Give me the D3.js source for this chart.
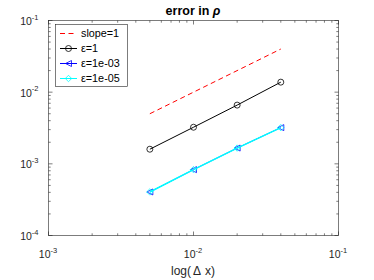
<!DOCTYPE html>
<html><head><meta charset="utf-8">
<script src="https://cdn.jsdelivr.net/npm/d3@7"></script>
<style>body{margin:0;background:#fff}svg{display:block;font-family:"Liberation Sans",Arial,sans-serif}</style>
</head><body><svg id="c" width="374" height="280"></svg>
<script>
const dx = [0.005, 0.01, 0.02, 0.04];
const slopeRef = [0.005, 0.04];
const slopeX = [0.005, 0.04];
const eps1 = [1.6e-3, 3.24e-3, 6.6e-3, 1.38e-2];
const eps1e3 = [4.05e-4, 8.3e-4, 1.66e-3, 3.2e-3];
const eps1e5 = [4.05e-4, 8.3e-4, 1.66e-3, 3.2e-3];
const xTicks = [1e-3, 1e-2, 1e-1];
const yTicks = [1e-4, 1e-3, 1e-2, 1e-1];
const legendLabels = ["slope=1", "\u03b5=1", "\u03b5=1e-03", "\u03b5=1e-05"];

const svg = d3.select("#c");
const L = 48.5, R = 338.5, T = 20.5, B = 235.5;
const x = d3.scaleLog().domain([1e-3, 1e-1]).range([L, R]);
const y = d3.scaleLog().domain([1e-4, 1e-1]).range([B, T]);

svg.append("rect").attr("x", L).attr("y", T).attr("width", R - L).attr("height", B - T)
  .attr("fill", "none").attr("stroke", "#262626").attr("stroke-width", 0.6);

function minors(dom) {
  const out = [];
  for (let e = Math.log10(dom[0]); e < Math.log10(dom[1]); e++)
    for (let m = 1; m < 10; m++) out.push(m * Math.pow(10, e));
  out.push(dom[1]);
  return out;
}
const g = svg.append("g").attr("stroke", "#262626").attr("stroke-width", 0.6);
minors([1e-3, 1e-1]).forEach(v => {
  const len = xTicks.includes(v) ? 4 : 2.2;
  const xp = x(v);
  g.append("line").attr("x1", xp).attr("x2", xp).attr("y1", B).attr("y2", B - len);
  g.append("line").attr("x1", xp).attr("x2", xp).attr("y1", T).attr("y2", T + len);
});
minors([1e-4, 1e-1]).forEach(v => {
  const len = yTicks.includes(v) ? 4 : 2.2;
  const yp = y(v);
  g.append("line").attr("y1", yp).attr("y2", yp).attr("x1", L).attr("x2", L + len);
  g.append("line").attr("y1", yp).attr("y2", yp).attr("x1", R).attr("x2", R - len);
});

xTicks.forEach(v => {
  const t = svg.append("text").attr("x", x(v) - 0.5).attr("y", 258).attr("text-anchor", "middle")
    .attr("font-size", 10.5).attr("fill", "#262626");
  t.append("tspan").text("10");
  t.append("tspan").attr("dy", -5.5).attr("font-size", 7.5).text(Math.round(Math.log10(v)));
});
yTicks.forEach(v => {
  const t = svg.append("text").attr("x", L - 10).attr("y", y(v) + 4.5).attr("text-anchor", "end")
    .attr("font-size", 10.5).attr("fill", "#262626");
  t.append("tspan").text("10");
  t.append("tspan").attr("dy", -5.5).attr("font-size", 7.5).text(Math.round(Math.log10(v)));
});

const tt = svg.append("text").attr("x", 193).attr("y", 15).attr("text-anchor", "middle")
  .attr("font-size", 12.5).attr("font-weight", "bold").attr("fill", "#000");
tt.append("tspan").text("error in ");
tt.append("tspan").attr("font-style", "italic").text("\u03c1");
const xl = svg.append("text").attr("x", 193).attr("y", 275).attr("text-anchor", "middle")
  .attr("font-size", 12).attr("fill", "#262626");
xl.append("tspan").text("log(");
xl.append("tspan").attr("dx", 2).text("\u0394");
xl.append("tspan").attr("dx", 4).text("x)");

const line = d3.line().x(d => x(d[0])).y(d => y(d[1]));
svg.append("path").datum(slopeX.map((v, i) => [v, slopeRef[i]])).attr("d", line)
  .attr("fill", "none").attr("stroke", "#ff0000").attr("stroke-width", 1).attr("stroke-dasharray", "5,3.5");

function triL(cx, cy, s) { return `M${cx - s},${cy}L${cx + s},${cy - s}L${cx + s},${cy + s}Z`; }
function diamond(cx, cy, s) { return `M${cx},${cy - s}L${cx + s},${cy}L${cx},${cy + s}L${cx - s},${cy}Z`; }

function series(vals, color, marker, w) {
  const pts = dx.map((v, i) => [v, vals[i]]);
  svg.append("path").datum(pts).attr("d", line).attr("fill", "none").attr("stroke", color).attr("stroke-width", w);
  pts.forEach(p => {
    const cx = x(p[0]), cy = y(p[1]);
    if (marker === "o") svg.append("circle").attr("cx", cx).attr("cy", cy).attr("r", 3)
      .attr("fill", "none").attr("stroke", color).attr("stroke-width", 0.8);
    else if (marker === "<") svg.append("path").attr("d", triL(cx, cy, 3)).attr("fill", "none").attr("stroke", color).attr("stroke-width", 0.8);
    else svg.append("path").attr("d", diamond(cx, cy, 3.2)).attr("fill", "none").attr("stroke", color).attr("stroke-width", 0.8);
  });
}
series(eps1, "#000000", "o", 1);
series(eps1e3, "#0000ff", "<", 0.8);
series(eps1e5, "#00ffff", "d", 1.5);

const lg = svg.append("g");
lg.append("rect").attr("x", 55.5).attr("y", 24.5).attr("width", 72).attr("height", 62)
  .attr("fill", "#fff").attr("stroke", "#262626").attr("stroke-width", 0.6);
const ly = [33.5, 48.5, 63.5, 78.5];
const lc = ["#ff0000", "#000000", "#0000ff", "#00ffff"];
legendLabels.forEach((lab, i) => {
  const yy = ly[i];
  lg.append("line").attr("x1", 60).attr("x2", 77).attr("y1", yy).attr("y2", yy)
    .attr("stroke", lc[i]).attr("stroke-width", 1).attr("stroke-dasharray", i === 0 ? "5,3.5" : null);
  if (i === 1) lg.append("circle").attr("cx", 68.5).attr("cy", yy).attr("r", 3).attr("fill", "none").attr("stroke", lc[i]).attr("stroke-width", 0.8);
  if (i === 2) lg.append("path").attr("d", triL(68.5, yy, 3)).attr("fill", "none").attr("stroke", lc[i]).attr("stroke-width", 0.8);
  if (i === 3) lg.append("path").attr("d", diamond(68.5, yy, 3.2)).attr("fill", "none").attr("stroke", lc[i]).attr("stroke-width", 0.8);
  lg.append("text").attr("x", 81).attr("y", yy + 3.8).attr("font-size", 10.8).attr("fill", "#000").text(lab);
});
</script></body></html>
